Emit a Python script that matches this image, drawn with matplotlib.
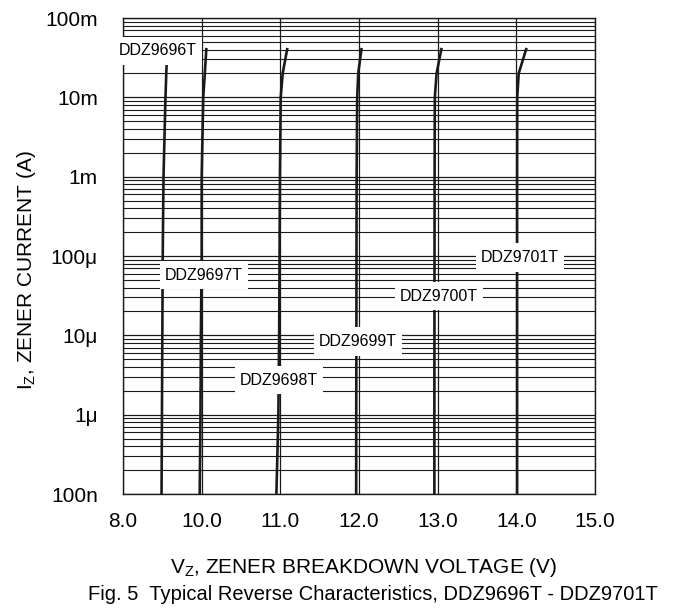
import numpy as np
import matplotlib
matplotlib.use('Agg')
import matplotlib.pyplot as plt
from matplotlib.path import Path

plt.rcParams['font.family'] = ['Liberation Sans', 'DejaVu Sans']
plt.rcParams['mathtext.default'] = 'regular'

current = [1e-7, 1e-6, 1e-5, 1e-4, 1e-3, 1e-2, 2e-2, 4.2e-2]
current_9696 = [1e-7, 1e-6, 1e-5, 1e-4, 1e-3, 1e-2, 2e-2, 2.6e-2]

# breakdown voltage (V) for each part
vz_9696 = [8.98, 8.99, 9.00, 9.01, 9.03, 9.08, 9.10, 9.11]
vz_9697 = [9.95, 9.97, 9.98, 10.00, 10.00, 10.02, 10.04, 10.06]
vz_9698 = [10.95, 10.975, 10.985, 10.99, 10.995, 11.005, 11.03, 11.09]
vz_9699 = [11.964, 11.965, 11.967, 11.968, 11.970, 11.977, 11.99, 12.033]
vz_9700 = [12.958, 12.958, 12.959, 12.960, 12.961, 12.964, 12.986, 13.05]
vz_9701 = [14.010, 14.010, 14.010, 14.010, 14.010, 14.012, 14.03, 14.13]

parts = ['DDZ9696T', 'DDZ9697T', 'DDZ9698T', 'DDZ9699T', 'DDZ9700T', 'DDZ9701T']

x_ticks = [8, 10, 11, 12, 13, 14, 15]
x_ticklabels = ['8.0', '10.0', '11.0', '12.0', '13.0', '14.0', '15.0']
y_ticks = [1e-7, 1e-6, 1e-5, 1e-4, 1e-3, 1e-2, 1e-1]
y_ticklabels = ['100n', '1\u03bc', '10\u03bc', '100\u03bc', '1m', '10m', '100m']

# where the part labels sit (V, A)
label_pos = [(8.89, 0.0384), (10.03, 5.75e-5), (10.98, 2.73e-6),
             (11.99, 8.35e-6), (13.02, 3.13e-5), (14.045, 9.57e-5)]


# 8 V .. 10 V is squeezed into one grid division
def fwd(v):
    v = np.asarray(v, dtype=float)
    return np.where(v < 10, 9 + (v - 8) / 2, v)


def inv(u):
    u = np.asarray(u, dtype=float)
    return np.where(u < 10, 8 + 2 * (u - 9), u)


# white box that is taller than it is padded sideways
def label_box(x0, y0, width, height, mutation_size):
    px = 0.3 * mutation_size
    py = 0.42 * mutation_size
    verts = [(x0 - px, y0 - py), (x0 + width + px, y0 - py),
             (x0 + width + px, y0 + height + py), (x0 - px, y0 + height + py),
             (x0 - px, y0 - py)]
    return Path(verts, closed=True)


fig = plt.figure(figsize=(6.78, 6.08), dpi=100)
ax = fig.add_axes([123 / 678, 1 - 494 / 608, 472 / 678, 476 / 608])

ax.set_xscale('function', functions=(fwd, inv))
ax.set_yscale('log')
ax.set_xlim(8, 15)
ax.set_ylim(1e-7, 1e-1)

curves = [(vz_9696, current_9696), (vz_9697, current), (vz_9698, current),
          (vz_9699, current), (vz_9700, current), (vz_9701, current)]
for vz, iz in curves:
    ax.plot(vz, iz, color='#1a1a1a', lw=1.9, zorder=3, solid_capstyle='butt')

ax.set_xticks(x_ticks)
ax.set_xticklabels(x_ticklabels)
ax.set_xticks([], minor=True)
ax.set_yticks(y_ticks)
ax.set_yticklabels(y_ticklabels)
ax.yaxis.set_minor_locator(matplotlib.ticker.LogLocator(base=10, subs=np.arange(2, 10)))
ax.yaxis.set_minor_formatter(matplotlib.ticker.NullFormatter())

ax.grid(True, which='major', axis='both', color='#1a1a1a', lw=0.9)
ax.grid(True, which='minor', axis='y', color='#1a1a1a', lw=0.8)
ax.set_axisbelow(True)
ax.tick_params(which='both', length=0)
ax.tick_params(axis='x', labelsize=15, pad=13)
ax.tick_params(axis='y', labelsize=15, pad=18)
for s in ax.spines.values():
    s.set_linewidth(1.0)
    s.set_color('#1a1a1a')

for name, (px, py) in zip(parts, label_pos):
    ax.text(px, py, name, fontsize=11.5, ha='center', va='center', zorder=6,
            bbox=dict(boxstyle=label_box, facecolor='white', edgecolor='none'))

ax.set_xlabel('V$_{Z}$, ZENER BREAKDOWN VOLTAGE (V)', fontsize=15)
ax.xaxis.set_label_coords((364 - 123) / 472, (494 - 556) / 476)
ax.set_ylabel('I$_{Z}$, ZENER CURRENT (A)', fontsize=15)
ax.yaxis.set_label_coords((38 - 123) / 472, (494 - 270) / 476)

fig.text(373 / 678, 1 - 600 / 608, 'Fig. 5  Typical Reverse Characteristics, DDZ9696T - DDZ9701T',
         fontsize=14.5, ha='center', va='baseline')

fig.savefig('out.png', dpi=100)
